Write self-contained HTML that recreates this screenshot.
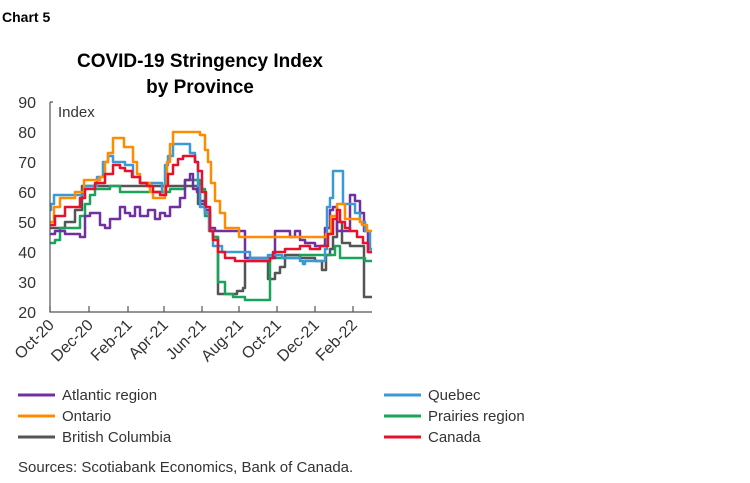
<!DOCTYPE html>
<html><head><meta charset="utf-8"><style>
body{margin:0;background:#fff;}
svg{display:block;font-family:"Liberation Sans",sans-serif;}
</style></head><body>
<svg id="s" width="750" height="483" viewBox="0 0 750 483" xmlns="http://www.w3.org/2000/svg">
<text x="2" y="22" font-size="14" font-weight="bold" fill="#000">Chart 5</text>
<text x="200" y="67" font-size="19" font-weight="bold" text-anchor="middle" fill="#000">COVID-19 Stringency Index</text>
<text x="200" y="93" font-size="19" font-weight="bold" text-anchor="middle" fill="#000">by Province</text>
<g font-size="16" fill="#333" text-anchor="end">
<text x="36" y="108">90</text><text x="36" y="138">80</text><text x="36" y="168">70</text><text x="36" y="198">60</text><text x="36" y="228">50</text><text x="36" y="258">40</text><text x="36" y="288">30</text><text x="36" y="318">20</text>
</g>
<text x="58" y="117" font-size="15" fill="#333">Index</text>
<g id="series" fill="none" stroke-width="2.5" stroke-linejoin="round"></g>
<path d="M50 102 H53 M50 102 V312 H372" stroke="#555" stroke-width="1.2" fill="none"/>
<g id="ticks" stroke="#555" stroke-width="1.2"></g>
<g id="xl" font-size="16" fill="#333" text-anchor="end"></g>
<g font-size="15" fill="#333">
<line x1="18" y1="395" x2="55" y2="395" stroke="#7030a0" stroke-width="3"/><text x="62" y="400">Atlantic region</text>
<line x1="384" y1="395" x2="421" y2="395" stroke="#3b9ad6" stroke-width="3"/><text x="428" y="400">Quebec</text>
<line x1="18" y1="416" x2="55" y2="416" stroke="#ff8c00" stroke-width="3"/><text x="62" y="421">Ontario</text>
<line x1="384" y1="416" x2="421" y2="416" stroke="#1aa35a" stroke-width="3"/><text x="428" y="421">Prairies region</text>
<line x1="18" y1="437" x2="55" y2="437" stroke="#555555" stroke-width="3"/><text x="62" y="442">British Columbia</text>
<line x1="384" y1="437" x2="421" y2="437" stroke="#e8102a" stroke-width="3"/><text x="428" y="442">Canada</text>
<text x="18" y="472">Sources: Scotiabank Economics, Bank of Canada.</text>
</g>
</svg>
<script>
var Y=function(v){return 102+(90-v)*3;};
var data=[
["#555555","50 48 60 48 65 50 75 54 82 62 170 62 195 62 198 56 205 53 210 47 213 45 218 26 230 26 237 27 243 28 245 37 265 37 268 31 275 33 280 35 285 39 300 38 315 37 322 34 326 39 330 41 333 45 337 50 342 43 350 42 362 42 364 25 372 25"],
["#1aa35a","50 43 55 44 60 48 75 48 80 52 85 56 90 59 95 61 110 62 120 60 160 60 170 61 185 64 195 64 200 61 205 52 210 47 213 45 218 30 225 26 233 25 245 24 267 24 270 38 300 39 325 39 335 42 340 38 355 38 365 37 372 37"],
["#7030a0","50 46 55 47 65 46 80 45 85 52 90 53 100 49 105 48 110 51 120 55 125 53 130 52 135 55 140 52 145 52 148 54 155 51 160 53 165 52 170 55 180 58 185 64 190 66 193 61 197 60 200 57 205 54 210 48 215 47 240 47 245 38 265 38 275 47 285 47 290 45 295 47 300 44 305 43 315 42 322 42 325 48 330 54 333 55 337 47 345 47 350 59 355 57 360 53 364 47 368 40 372 40"],
["#3b9ad6","50 54 51 56 54 59 80 59 84 62 97 65 103 70 108 72 113 70 125 69 133 65 140 63 160 63 162 60 165 69 168 72 173 76 185 76 190 73 195 70 198 62 200 55 205 53 209 47 213 42 222 40 245 40 250 38 265 38 268 39 282 38 300 37 303 36 305 37 315 37 325 41 327 55 330 58 333 67 340 67 343 56 350 56 355 53 360 50 365 47 370 41 372 41"],
["#ff8c00","50 50 54 55 60 58 75 60 84 64 100 65 105 70 108 73 113 78 122 78 124 75 133 70 137 66 140 63 147 63 150 60 153 58 160 58 165 62 167 70 170 76 173 80 196 80 200 79 205 74 208 70 211 63 215 57 220 53 225 48 239 45 320 45 326 46 331 52 337 56 340 56 345 51 360 50 362 49 367 47 372 47"],
["#e8102a","50 49 55 52 65 55 80 58 85 61 95 63 105 66 113 69 120 68 125 67 132 65 140 63 147 62 153 60 160 59 163 59 166 62 168 66 173 69 178 71 183 72 188 72 195 70 198 67 202 60 206 55 210 47 213 44 218 40 225 38 235 37 265 37 270 38 273 40 285 41 300 42 310 41 320 42 328 46 333 51 337 54 340 50 345 48 350 47 357 45 363 43 368 40 372 40"]
];
var g=document.getElementById('series'),h='';
data.forEach(function(d){var a=d[1].split(' ').map(Number),p='M'+a[0]+' '+Y(a[1]);
for(var i=2;i<a.length;i+=2){p+=' H'+a[i]+' V'+Y(a[i+1]);}
h+='<path d="'+p+'" stroke="'+d[0]+'"/>';});
g.innerHTML=h;
var t=[50,89,128,164,202,239,277,315,353],L=["Oct-20","Dec-20","Feb-21","Apr-21","Jun-21","Aug-21","Oct-21","Dec-21","Feb-22"],th='',xh='';
t.forEach(function(x,i){th+='<line x1="'+x+'" y1="312" x2="'+x+'" y2="306"/>';
xh+='<text transform="translate('+(x+5)+',326) rotate(-45)">'+L[i]+'</text>';});
document.getElementById('ticks').innerHTML=th;
document.getElementById('xl').innerHTML=xh;
</script>
</body></html>
